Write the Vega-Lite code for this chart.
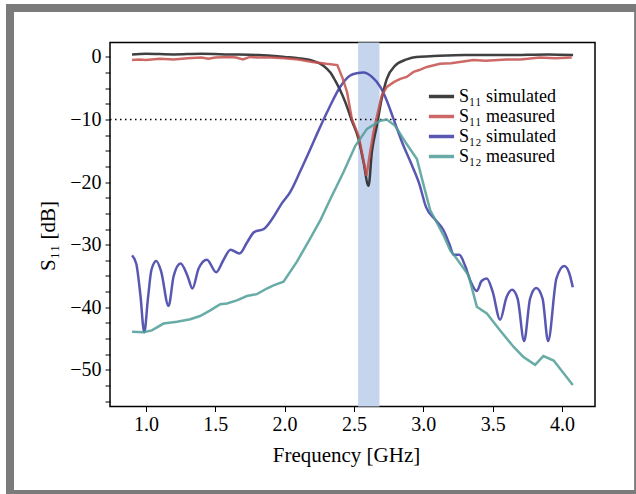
{
  "$schema": "https://vega.github.io/schema/vega-lite/v6.json",
  "width": 485,
  "height": 364,
  "autosize": {"type": "none"},
  "padding": {"left": 110, "top": 42.5, "right": 41, "bottom": 87.5},
  "background": "white",
  "config": {
    "font": "Liberation Serif",
    "view": {"stroke": "black", "strokeWidth": 1.5},
    "axis": {"domain": false, "zindex": 1, "labelFont": "Liberation Serif", "titleFont": "Liberation Serif", "labelColor": "black", "titleColor": "black", "tickColor": "black", "grid": false, "titleFontWeight": "normal", "labelFontSize": 20, "titleFontSize": 21, "tickSize": 5, "labelOverlap": false}
  },
  "datasets": {
    "frame": [{"x0": 0.02, "x1": 4.549, "y0": 7.81, "y1": -69.82}],
    "band": [{"f0": 2.53, "f1": 2.684}],
    "threshold": [{"f0": 0.741, "f1": 2.955, "db": -10}],
    "curves": [
      {"s": "S₁₁ simulated", "f": 0.90, "db": 0.4},
      {"s": "S₁₁ simulated", "f": 1.0, "db": 0.5},
      {"s": "S₁₁ simulated", "f": 1.2, "db": 0.4},
      {"s": "S₁₁ simulated", "f": 1.4, "db": 0.5},
      {"s": "S₁₁ simulated", "f": 1.6, "db": 0.4},
      {"s": "S₁₁ simulated", "f": 1.8, "db": 0.3},
      {"s": "S₁₁ simulated", "f": 1.9, "db": 0.2},
      {"s": "S₁₁ simulated", "f": 2.0, "db": 0.0},
      {"s": "S₁₁ simulated", "f": 2.1, "db": -0.2},
      {"s": "S₁₁ simulated", "f": 2.2, "db": -0.6},
      {"s": "S₁₁ simulated", "f": 2.28, "db": -1.4},
      {"s": "S₁₁ simulated", "f": 2.33, "db": -2.5},
      {"s": "S₁₁ simulated", "f": 2.365, "db": -3.8},
      {"s": "S₁₁ simulated", "f": 2.40, "db": -5.3},
      {"s": "S₁₁ simulated", "f": 2.437, "db": -7.2},
      {"s": "S₁₁ simulated", "f": 2.485, "db": -10.2},
      {"s": "S₁₁ simulated", "f": 2.533, "db": -13.1},
      {"s": "S₁₁ simulated", "f": 2.569, "db": -16.8},
      {"s": "S₁₁ simulated", "f": 2.605, "db": -20.6},
      {"s": "S₁₁ simulated", "f": 2.629, "db": -15.2},
      {"s": "S₁₁ simulated", "f": 2.665, "db": -11.0},
      {"s": "S₁₁ simulated", "f": 2.70, "db": -6.7},
      {"s": "S₁₁ simulated", "f": 2.737, "db": -3.5},
      {"s": "S₁₁ simulated", "f": 2.797, "db": -1.4},
      {"s": "S₁₁ simulated", "f": 2.88, "db": -0.4},
      {"s": "S₁₁ simulated", "f": 2.95, "db": 0.0},
      {"s": "S₁₁ simulated", "f": 3.05, "db": 0.1},
      {"s": "S₁₁ simulated", "f": 3.3, "db": 0.3},
      {"s": "S₁₁ simulated", "f": 3.6, "db": 0.3},
      {"s": "S₁₁ simulated", "f": 3.9, "db": 0.4},
      {"s": "S₁₁ simulated", "f": 4.08, "db": 0.3},

      {"s": "S₁₁ measured", "f": 0.90, "db": -0.5},
      {"s": "S₁₁ measured", "f": 0.95, "db": -0.4},
      {"s": "S₁₁ measured", "f": 1.0, "db": -0.5},
      {"s": "S₁₁ measured", "f": 1.1, "db": -0.3},
      {"s": "S₁₁ measured", "f": 1.2, "db": -0.4},
      {"s": "S₁₁ measured", "f": 1.3, "db": -0.2},
      {"s": "S₁₁ measured", "f": 1.4, "db": -0.1},
      {"s": "S₁₁ measured", "f": 1.45, "db": -0.3},
      {"s": "S₁₁ measured", "f": 1.5, "db": -0.1},
      {"s": "S₁₁ measured", "f": 1.6, "db": 0.0},
      {"s": "S₁₁ measured", "f": 1.65, "db": -0.1},
      {"s": "S₁₁ measured", "f": 1.7, "db": -0.4},
      {"s": "S₁₁ measured", "f": 1.75, "db": 0.0},
      {"s": "S₁₁ measured", "f": 1.8, "db": -0.1},
      {"s": "S₁₁ measured", "f": 1.9, "db": -0.1},
      {"s": "S₁₁ measured", "f": 2.0, "db": -0.2},
      {"s": "S₁₁ measured", "f": 2.1, "db": -0.4},
      {"s": "S₁₁ measured", "f": 2.2, "db": -0.8},
      {"s": "S₁₁ measured", "f": 2.3, "db": -1.1},
      {"s": "S₁₁ measured", "f": 2.38, "db": -1.3},
      {"s": "S₁₁ measured", "f": 2.42, "db": -3.5},
      {"s": "S₁₁ measured", "f": 2.45, "db": -5.6},
      {"s": "S₁₁ measured", "f": 2.485, "db": -9.9},
      {"s": "S₁₁ measured", "f": 2.533, "db": -12.6},
      {"s": "S₁₁ measured", "f": 2.557, "db": -15.2},
      {"s": "S₁₁ measured", "f": 2.59, "db": -19.0},
      {"s": "S₁₁ measured", "f": 2.617, "db": -15.2},
      {"s": "S₁₁ measured", "f": 2.641, "db": -12.0},
      {"s": "S₁₁ measured", "f": 2.67, "db": -9.1},
      {"s": "S₁₁ measured", "f": 2.70, "db": -6.2},
      {"s": "S₁₁ measured", "f": 2.737, "db": -4.8},
      {"s": "S₁₁ measured", "f": 2.79, "db": -4.0},
      {"s": "S₁₁ measured", "f": 2.834, "db": -3.5},
      {"s": "S₁₁ measured", "f": 2.88, "db": -3.2},
      {"s": "S₁₁ measured", "f": 2.93, "db": -2.4},
      {"s": "S₁₁ measured", "f": 2.97, "db": -2.1},
      {"s": "S₁₁ measured", "f": 3.026, "db": -1.6},
      {"s": "S₁₁ measured", "f": 3.12, "db": -1.1},
      {"s": "S₁₁ measured", "f": 3.2, "db": -1.0},
      {"s": "S₁₁ measured", "f": 3.3, "db": -0.7},
      {"s": "S₁₁ measured", "f": 3.36, "db": -0.5},
      {"s": "S₁₁ measured", "f": 3.45, "db": -0.6},
      {"s": "S₁₁ measured", "f": 3.6, "db": -0.4},
      {"s": "S₁₁ measured", "f": 3.7, "db": -0.4},
      {"s": "S₁₁ measured", "f": 3.84, "db": -0.1},
      {"s": "S₁₁ measured", "f": 3.95, "db": -0.2},
      {"s": "S₁₁ measured", "f": 4.07, "db": -0.1},

      {"s": "S₁₂ simulated", "f": 0.90, "db": -31.7},
      {"s": "S₁₂ simulated", "f": 0.93, "db": -33.0},
      {"s": "S₁₂ simulated", "f": 0.96, "db": -38.0},
      {"s": "S₁₂ simulated", "f": 0.988, "db": -44.0},
      {"s": "S₁₂ simulated", "f": 1.015, "db": -38.5},
      {"s": "S₁₂ simulated", "f": 1.04, "db": -34.0},
      {"s": "S₁₂ simulated", "f": 1.075, "db": -32.6},
      {"s": "S₁₂ simulated", "f": 1.11, "db": -34.3},
      {"s": "S₁₂ simulated", "f": 1.163, "db": -39.8},
      {"s": "S₁₂ simulated", "f": 1.20, "db": -35.0},
      {"s": "S₁₂ simulated", "f": 1.25, "db": -33.0},
      {"s": "S₁₂ simulated", "f": 1.30, "db": -35.0},
      {"s": "S₁₂ simulated", "f": 1.335, "db": -37.0},
      {"s": "S₁₂ simulated", "f": 1.38, "db": -33.8},
      {"s": "S₁₂ simulated", "f": 1.44, "db": -32.4},
      {"s": "S₁₂ simulated", "f": 1.507, "db": -34.4},
      {"s": "S₁₂ simulated", "f": 1.56, "db": -32.4},
      {"s": "S₁₂ simulated", "f": 1.61, "db": -30.8},
      {"s": "S₁₂ simulated", "f": 1.675, "db": -31.4},
      {"s": "S₁₂ simulated", "f": 1.73, "db": -29.6},
      {"s": "S₁₂ simulated", "f": 1.78, "db": -28.0},
      {"s": "S₁₂ simulated", "f": 1.85, "db": -27.5},
      {"s": "S₁₂ simulated", "f": 1.91, "db": -25.9},
      {"s": "S₁₂ simulated", "f": 1.98, "db": -23.4},
      {"s": "S₁₂ simulated", "f": 2.04, "db": -21.6},
      {"s": "S₁₂ simulated", "f": 2.11, "db": -18.4},
      {"s": "S₁₂ simulated", "f": 2.18, "db": -15.0},
      {"s": "S₁₂ simulated", "f": 2.25, "db": -11.5},
      {"s": "S₁₂ simulated", "f": 2.32, "db": -8.2},
      {"s": "S₁₂ simulated", "f": 2.40, "db": -4.8},
      {"s": "S₁₂ simulated", "f": 2.47, "db": -3.0},
      {"s": "S₁₂ simulated", "f": 2.52, "db": -2.6},
      {"s": "S₁₂ simulated", "f": 2.57, "db": -2.5},
      {"s": "S₁₂ simulated", "f": 2.63, "db": -3.2},
      {"s": "S₁₂ simulated", "f": 2.69, "db": -4.8},
      {"s": "S₁₂ simulated", "f": 2.737, "db": -7.0},
      {"s": "S₁₂ simulated", "f": 2.785, "db": -9.9},
      {"s": "S₁₂ simulated", "f": 2.846, "db": -13.6},
      {"s": "S₁₂ simulated", "f": 2.918, "db": -17.3},
      {"s": "S₁₂ simulated", "f": 2.97, "db": -20.2},
      {"s": "S₁₂ simulated", "f": 3.02, "db": -24.0},
      {"s": "S₁₂ simulated", "f": 3.09, "db": -26.1},
      {"s": "S₁₂ simulated", "f": 3.146, "db": -27.7},
      {"s": "S₁₂ simulated", "f": 3.19, "db": -30.0},
      {"s": "S₁₂ simulated", "f": 3.218, "db": -31.6},
      {"s": "S₁₂ simulated", "f": 3.26, "db": -31.6},
      {"s": "S₁₂ simulated", "f": 3.30, "db": -33.3},
      {"s": "S₁₂ simulated", "f": 3.34, "db": -35.8},
      {"s": "S₁₂ simulated", "f": 3.386, "db": -37.4},
      {"s": "S₁₂ simulated", "f": 3.42, "db": -35.8},
      {"s": "S₁₂ simulated", "f": 3.458, "db": -35.4},
      {"s": "S₁₂ simulated", "f": 3.50, "db": -37.5},
      {"s": "S₁₂ simulated", "f": 3.554, "db": -42.0},
      {"s": "S₁₂ simulated", "f": 3.60, "db": -38.4},
      {"s": "S₁₂ simulated", "f": 3.64, "db": -37.2},
      {"s": "S₁₂ simulated", "f": 3.68, "db": -38.6},
      {"s": "S₁₂ simulated", "f": 3.727, "db": -45.4},
      {"s": "S₁₂ simulated", "f": 3.77, "db": -38.6},
      {"s": "S₁₂ simulated", "f": 3.814, "db": -36.9},
      {"s": "S₁₂ simulated", "f": 3.86, "db": -38.6},
      {"s": "S₁₂ simulated", "f": 3.90, "db": -45.4},
      {"s": "S₁₂ simulated", "f": 3.96, "db": -35.4},
      {"s": "S₁₂ simulated", "f": 4.016, "db": -33.4},
      {"s": "S₁₂ simulated", "f": 4.05, "db": -34.4},
      {"s": "S₁₂ simulated", "f": 4.078, "db": -36.8},

      {"s": "S₁₂ measured", "f": 0.90, "db": -43.9},
      {"s": "S₁₂ measured", "f": 0.983, "db": -44.0},
      {"s": "S₁₂ measured", "f": 1.043, "db": -43.7},
      {"s": "S₁₂ measured", "f": 1.127, "db": -42.6},
      {"s": "S₁₂ measured", "f": 1.224, "db": -42.3},
      {"s": "S₁₂ measured", "f": 1.32, "db": -41.9},
      {"s": "S₁₂ measured", "f": 1.39, "db": -41.4},
      {"s": "S₁₂ measured", "f": 1.464, "db": -40.5},
      {"s": "S₁₂ measured", "f": 1.536, "db": -39.5},
      {"s": "S₁₂ measured", "f": 1.584, "db": -39.4},
      {"s": "S₁₂ measured", "f": 1.656, "db": -38.9},
      {"s": "S₁₂ measured", "f": 1.728, "db": -38.2},
      {"s": "S₁₂ measured", "f": 1.80, "db": -37.9},
      {"s": "S₁₂ measured", "f": 1.872, "db": -37.0},
      {"s": "S₁₂ measured", "f": 1.92, "db": -36.5},
      {"s": "S₁₂ measured", "f": 1.992, "db": -35.9},
      {"s": "S₁₂ measured", "f": 2.089, "db": -32.7},
      {"s": "S₁₂ measured", "f": 2.185, "db": -29.0},
      {"s": "S₁₂ measured", "f": 2.26, "db": -26.0},
      {"s": "S₁₂ measured", "f": 2.33, "db": -22.7},
      {"s": "S₁₂ measured", "f": 2.425, "db": -18.4},
      {"s": "S₁₂ measured", "f": 2.51, "db": -14.2},
      {"s": "S₁₂ measured", "f": 2.594, "db": -11.5},
      {"s": "S₁₂ measured", "f": 2.69, "db": -10.2},
      {"s": "S₁₂ measured", "f": 2.737, "db": -10.0},
      {"s": "S₁₂ measured", "f": 2.797, "db": -11.0},
      {"s": "S₁₂ measured", "f": 2.87, "db": -13.6},
      {"s": "S₁₂ measured", "f": 2.954, "db": -16.3},
      {"s": "S₁₂ measured", "f": 3.006, "db": -20.8},
      {"s": "S₁₂ measured", "f": 3.05, "db": -24.5},
      {"s": "S₁₂ measured", "f": 3.098, "db": -26.5},
      {"s": "S₁₂ measured", "f": 3.146, "db": -28.5},
      {"s": "S₁₂ measured", "f": 3.194, "db": -30.9},
      {"s": "S₁₂ measured", "f": 3.24, "db": -32.2},
      {"s": "S₁₂ measured", "f": 3.326, "db": -34.9},
      {"s": "S₁₂ measured", "f": 3.386, "db": -39.9},
      {"s": "S₁₂ measured", "f": 3.458, "db": -41.0},
      {"s": "S₁₂ measured", "f": 3.554, "db": -43.7},
      {"s": "S₁₂ measured", "f": 3.65, "db": -46.3},
      {"s": "S₁₂ measured", "f": 3.72, "db": -47.9},
      {"s": "S₁₂ measured", "f": 3.806, "db": -49.2},
      {"s": "S₁₂ measured", "f": 3.866, "db": -47.8},
      {"s": "S₁₂ measured", "f": 3.94, "db": -48.5},
      {"s": "S₁₂ measured", "f": 4.078, "db": -52.4}
    ]
  },
  "encoding": {
    "x": {"type": "quantitative", "scale": {"domain": [0.741, 4.238], "nice": false, "zero": false},
      "axis": {"values": [1, 1.5, 2, 2.5, 3, 3.5, 4], "format": ".1f", "title": "Frequency [GHz]", "titleX": 236, "titleAlign": "center", "labelPadding": 3, "titlePadding": 10}},
    "y": {"type": "quantitative", "scale": {"domain": [-55.85, 2.3], "nice": false, "zero": false},
      "axis": {"values": [-55, -52.5, -50, -47.5, -45, -42.5, -40, -37.5, -35, -32.5, -30, -27.5, -25, -22.5, -20, -17.5, -15, -12.5, -10, -7.5, -5, -2.5, 0], "labelExpr": "datum.value % 10 === 0 ? replace(datum.label, '-', '−') : ''", "title": "S₁₁ [dB]", "titleY": 193, "titleAlign": "center", "labelPadding": 4, "titlePadding": 11}}
  },
  "layer": [
    {
      "data": {"name": "band"},
      "mark": {"type": "rect", "color": "#c5d5ee"},
      "encoding": {
        "x": {"field": "f0", "type": "quantitative"},
        "x2": {"field": "f1"}
      }
    },
    {
      "data": {"name": "threshold"},
      "mark": {"type": "rule", "color": "black", "strokeWidth": 1.5, "strokeDash": [1.5, 3.5]},
      "encoding": {
        "x": {"field": "f0", "type": "quantitative"},
        "x2": {"field": "f1"},
        "y": {"field": "db", "type": "quantitative"}
      }
    },
    {
      "data": {"name": "curves"},
      "transform": [{"filter": "datum.s === 'S₁₁ simulated' || datum.s === 'S₁₂ simulated'"}],
      "mark": {"type": "line", "interpolate": "monotone", "strokeWidth": 2.5, "opacity": 0.85},
      "encoding": {
        "x": {"field": "f", "type": "quantitative"},
        "y": {"field": "db", "type": "quantitative"},
        "color": {"field": "s", "type": "nominal",
          "scale": {"domain": ["S₁₁ simulated", "S₁₁ measured", "S₁₂ simulated", "S₁₂ measured"], "range": ["#1e1e1e", "#c4504e", "#3b3ba6", "#4f9e98"]},
          "legend": {"title": null, "orient": "none", "legendX": 320.5, "legendY": 43, "symbolType": "M-1.4,0H1.4", "symbolSize": 324, "symbolStrokeWidth": 3.5, "labelFontSize": 18, "labelFont": "Liberation Serif", "labelColor": "black", "labelOffset": 6.5, "rowPadding": -1.5, "padding": 0, "symbolOpacity": 1}}
      }
    },
    {
      "data": {"name": "curves"},
      "transform": [{"filter": "datum.s === 'S₁₁ measured' || datum.s === 'S₁₂ measured'"}],
      "mark": {"type": "line", "interpolate": "linear", "strokeWidth": 2.5, "opacity": 0.85},
      "encoding": {
        "x": {"field": "f", "type": "quantitative"},
        "y": {"field": "db", "type": "quantitative"},
        "color": {"field": "s", "type": "nominal"}
      }
    },
    {
      "data": {"name": "frame"},
      "mark": {"type": "rect", "fill": null, "stroke": "#7b7b7b", "strokeWidth": 8, "clip": false},
      "encoding": {
        "x": {"field": "x0", "type": "quantitative"},
        "x2": {"field": "x1"},
        "y": {"field": "y0", "type": "quantitative"},
        "y2": {"field": "y1"}
      }
    }
  ]
}
